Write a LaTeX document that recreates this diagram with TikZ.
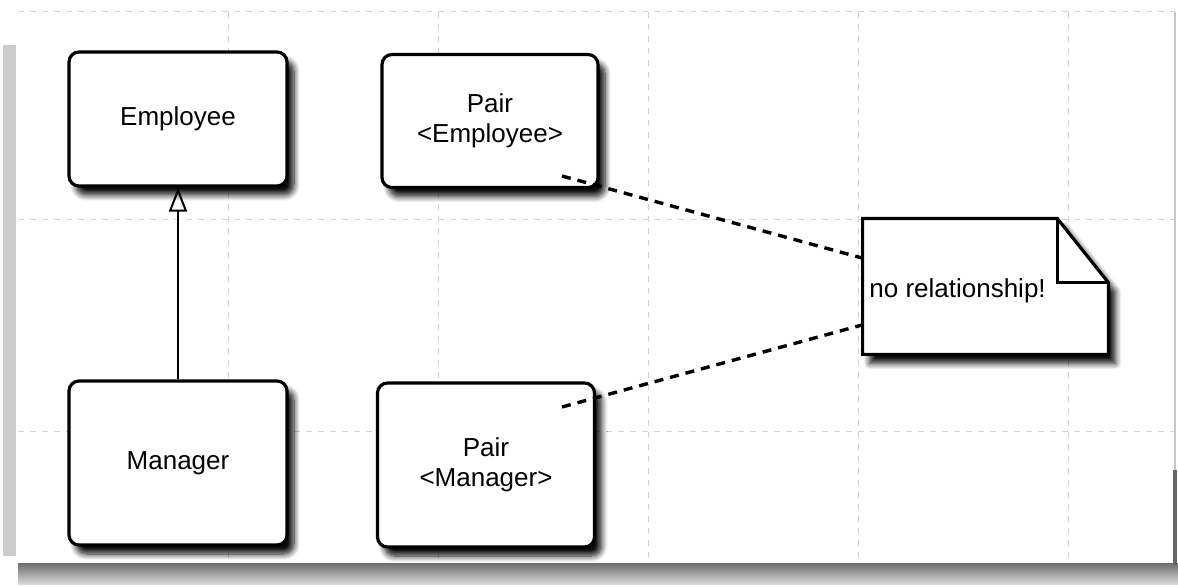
\documentclass[tikz,border=0pt]{standalone}
\usepackage{fontspec}
\setmainfont{Liberation Sans}
\usetikzlibrary{arrows.meta,shadows,shadows.blur}
\begin{document}
\begin{tikzpicture}[x=0.5pt,y=-0.5pt,
  every node/.style={font=\fontsize{13}{15}\selectfont},
  boxshadow/.style={blur shadow={shadow xshift=3.5pt, shadow yshift=-4.5pt, shadow blur steps=8, shadow blur radius=3pt, shadow opacity=95}},
  classbox/.style={draw=black, fill=white, line width=1.6pt, rounded corners=5pt,
    align=center, inner sep=0pt, boxshadow},
  gridline/.style={gray!35, line width=0.5pt, dash pattern=on 3pt off 3pt},
  relline/.style={line width=1.7pt, dash pattern=on 4.5pt off 3.5pt},
  genline/.style={line width=1pt, -{Triangle[open, length=12pt, width=9pt, line width=1pt]}}
]
\useasboundingbox (0,0) rectangle (1178,587);
% canvas frame
\shade[top color=gray!85!black, bottom color=gray!30] (18,563) rectangle (1178,584);
\fill[gray!40] (3,45) rectangle (16,556);
\draw[gray!45, line width=1pt] (1175,12) -- (1175,470);
\draw[gray!80!black, line width=2pt] (1175,470) -- (1175,565);
% grid
\foreach \gx in {228,438,648,858,1068} \draw[gridline] (\gx,12) -- (\gx,563);
\foreach \gy in {12,220,432} \draw[gridline] (18,\gy) -- (1175,\gy);
% classes
\node[classbox, minimum width=109pt, minimum height=67pt] (emp) at (178,119) {Employee};
\node[classbox, minimum width=108pt, minimum height=66.5pt] (pe) at (490,121) {Pair\\{<}Employee{>}};
\node[classbox, minimum width=109pt, minimum height=82pt] (mgr) at (178,463) {Manager};
\node[classbox, minimum width=108.5pt, minimum height=82pt] (pm) at (486,465) {Pair\\{<}Manager{>}};
% note
\node[minimum width=122.5pt, minimum height=67.5pt, inner sep=0pt] (note) at (985.5,286.5) {};
\fill[white, boxshadow]
  (note.north west) -- ([xshift=-25.5pt]note.north east) -- ([yshift=-32pt]note.north east)
  -- (note.south east) -- (note.south west) -- cycle;
\draw[line width=1.6pt, line join=miter]
  (note.north west) -- ([xshift=-25.5pt]note.north east) -- ([yshift=-32pt]note.north east)
  -- (note.south east) -- (note.south west) -- cycle;
\draw[line width=1.6pt]
  ([xshift=-25.5pt]note.north east) -- ([xshift=-25.5pt, yshift=-32pt]note.north east)
  -- ([yshift=-32pt]note.north east);
\node[anchor=west, inner sep=0pt] (notetext) at (869,291) {no relationship!};
% generalization
\draw[genline] (mgr.north) -- (emp.south);
% dashed relations
\coordinate (a1) at (562,176);
\coordinate (a2) at (562,407);
\coordinate (n1) at (862,258);
\coordinate (n2) at (862,325);
\draw[relline] (a1) -- (n1);
\draw[relline] (a2) -- (n2);
\end{tikzpicture}
\end{document}
